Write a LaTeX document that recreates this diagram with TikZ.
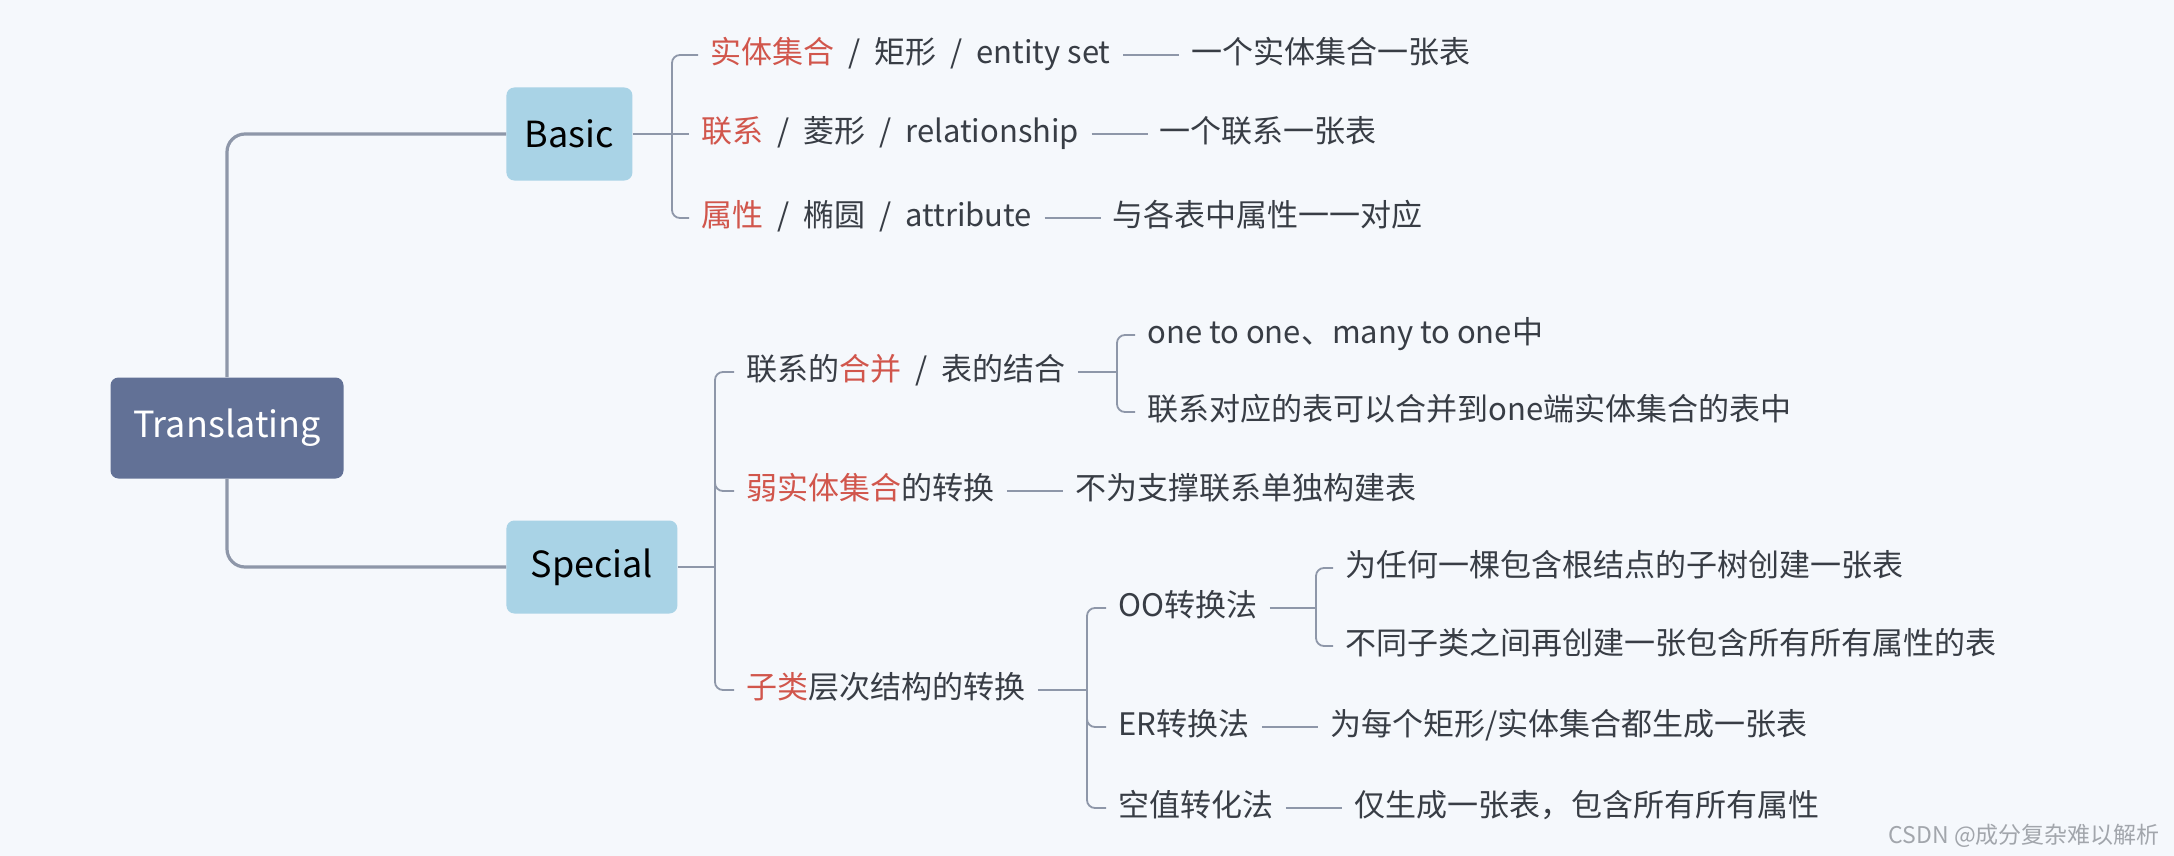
\documentclass[tikz,border=0pt]{standalone}
\usepackage{fontspec}
\usepackage{xcolor}
\usepackage{tikz}
\usetikzlibrary{positioning}
\newfontfamily\cjk{Noto Sans CJK SC}
\definecolor{bgpaper}{HTML}{F5F8FC}
\definecolor{rootfill}{HTML}{627196}
\definecolor{mainfill}{HTML}{A9D3E6}
\definecolor{linegray}{HTML}{8E97A9}
\definecolor{inkgray}{HTML}{383D45}
\definecolor{hotred}{HTML}{D1564C}
\definecolor{markgray}{HTML}{A2A6AC}
\newcommand{\hot}[1]{\textcolor{hotred}{#1}}
\newcommand{\sep}{\hspace{0.45em}/\hspace{0.45em}}
\tikzset{
  rootbox/.style={fill=rootfill, text=white, rounded corners=4pt, minimum width=116.5pt, minimum height=50.5pt, font=\cjk\fontsize{18}{22}\selectfont},
  mainbox/.style={fill=mainfill, text=black, rounded corners=4pt, inner xsep=2pt, minimum height=46.5pt, anchor=west, font=\cjk\fontsize{18}{22}\selectfont},
  leaf/.style={anchor=west, inner xsep=6pt, inner ysep=2pt, text height=12pt, text depth=3.5pt, text=inkgray, font=\cjk\fontsize{15.5}{18}\selectfont},
  trunk/.style={draw=linegray, line width=1.6pt, rounded corners=9pt},
  twig/.style={draw=linegray, line width=0.9pt, rounded corners=4pt}
}

\begin{document}
\begin{tikzpicture}[x=0.5pt, y=-0.5pt]
  \useasboundingbox (0,0) rectangle (2174,856);
  \fill[bgpaper] (0,0) rectangle (2174,856);

  % root and the two main branches
  \node[rootbox] (root) at (227,428) {Translating};
  \node[mainbox, minimum width=63pt] (basic) at (506,134) {Basic};
  \node[mainbox, minimum width=85.5pt] (special) at (506,567) {Special};
  \draw[trunk] (root.north) |- (basic.west);
  \draw[trunk] (root.south) |- (special.west);

  % Basic
  \coordinate (bk) at (672,134);
  \node[leaf] (ent) at (698,55) {\hot{实体集合}\sep 矩形\sep entity set};
  \node[leaf] (rel) at (689,134) {\hot{联系}\sep 菱形\sep relationship};
  \node[leaf] (att) at (689,218) {\hot{属性}\sep 椭圆\sep attribute};
  \node[leaf, right=28pt of ent] (entnote) {一个实体集合一张表};
  \node[leaf, right=28pt of rel] (relnote) {一个联系一张表};
  \node[leaf, right=28pt of att] (attnote) {与各表中属性一一对应};
  \draw[twig] (basic.east) -- (rel.west);
  \draw[twig] (ent.west) -| (bk) |- (att.west);
  \draw[twig] (ent.east) -- (entnote.west);
  \draw[twig] (rel.east) -- (relnote.west);
  \draw[twig] (att.east) -- (attnote.west);

  % Special
  \coordinate (sk) at (715,567);
  \node[leaf] (merge) at (734,372) {联系的\hot{合并}\sep 表的结合};
  \node[leaf] (weak) at (734,491) {\hot{弱实体集合}的转换};
  \node[leaf] (sub) at (734,690) {\hot{子类}层次结构的转换};
  \draw[twig] (special.east) -- (sk);
  \draw[twig] (merge.west) -| (sk) |- (sub.west);
  \draw[twig] (sk |- weak.west) ++(0,-14) |- (weak.west);

  % merge
  \coordinate (mk) at (1117,372);
  \node[leaf] (m1) at (1135,335) {one to one、many to one中};
  \node[leaf] (m2) at (1135,412) {联系对应的表可以合并到one端实体集合的表中};
  \draw[twig] (merge.east) -- (mk);
  \draw[twig] (m1.west) -| (mk) |- (m2.west);

  % weak entity
  \node[leaf, right=28pt of weak] (weaknote) {不为支撑联系单独构建表};
  \draw[twig] (weak.east) -- (weaknote.west);

  % subclass
  \coordinate (uk) at (1087,690);
  \node[leaf] (oo) at (1106,608) {OO转换法};
  \node[leaf] (er) at (1106,727) {ER转换法};
  \node[leaf] (nul) at (1106,808) {空值转化法};
  \draw[twig] (sub.east) -- (uk);
  \draw[twig] (oo.west) -| (uk) |- (nul.west);
  \draw[twig] (uk |- er.west) ++(0,-14) |- (er.west);
  \node[leaf, right=28pt of er] (ernote) {为每个矩形/实体集合都生成一张表};
  \node[leaf, right=28pt of nul] (nulnote) {仅生成一张表，包含所有所有属性};
  \draw[twig] (er.east) -- (ernote.west);
  \draw[twig] (nul.east) -- (nulnote.west);

  % OO
  \coordinate (ok) at (1316,608);
  \node[leaf] (oo1) at (1333,568) {为任何一棵包含根结点的子树创建一张表};
  \node[leaf] (oo2) at (1333,646) {不同子类之间再创建一张包含所有所有属性的表};
  \draw[twig] (oo.east) -- (ok);
  \draw[twig] (oo1.west) -| (ok) |- (oo2.west);

  \node[anchor=east, text=markgray, font=\cjk\fontsize{11.5}{13}\selectfont] (mark) at (2167,836) {CSDN @成分复杂难以解析};
\end{tikzpicture}
\end{document}
